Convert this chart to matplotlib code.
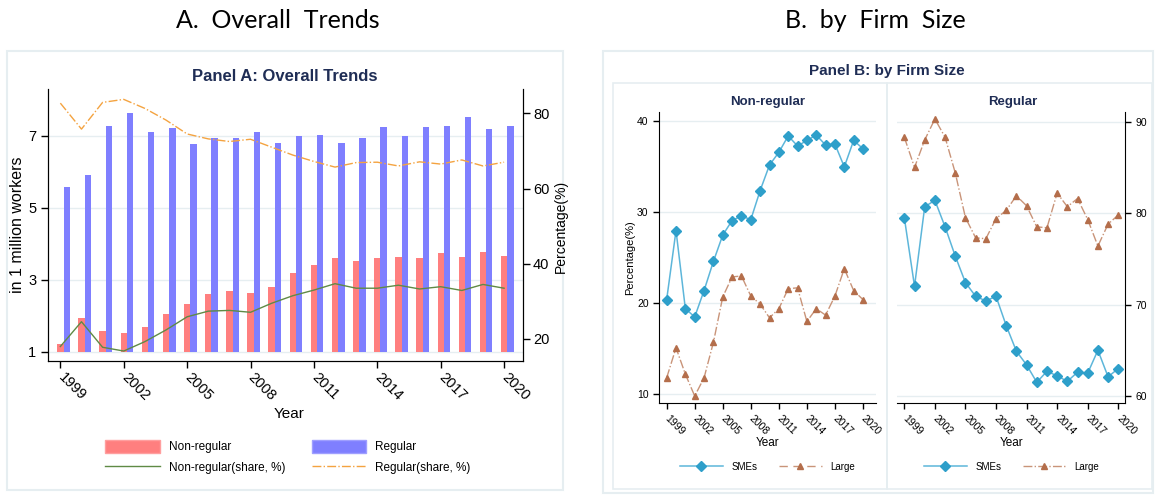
import numpy as np
import matplotlib
matplotlib.use("Agg")
import matplotlib.pyplot as plt
from matplotlib import font_manager
from matplotlib.patches import Rectangle, Patch
from matplotlib.lines import Line2D

names = {f.name for f in font_manager.fontManager.ttflist}
NARROW = "Liberation Sans Narrow" if "Liberation Sans Narrow" in names else "Liberation Sans"
plt.rcParams["font.family"] = [NARROW, "DejaVu Sans"]
HEAD = "Lato" if "Lato" in names else NARROW

# ---- data ----
years = list(range(1999, 2021))
xticks = list(range(1999, 2021, 3))

# Panel A: workers (million) and shares (%)
nonreg_mil = [1.22, 1.94, 1.57, 1.53, 1.69, 2.06, 2.32, 2.60, 2.68, 2.63, 2.80,
              3.19, 3.41, 3.59, 3.52, 3.61, 3.63, 3.61, 3.74, 3.64, 3.77, 3.66]
reg_mil = [5.57, 5.90, 7.27, 7.63, 7.09, 7.22, 6.77, 6.94, 6.94, 7.10, 6.80,
           6.99, 7.02, 6.79, 6.94, 7.24, 6.99, 7.24, 7.27, 7.53, 7.18, 7.27]
nonreg_share = [18.0, 24.6, 17.8, 16.8, 19.3, 22.4, 25.9, 27.4, 27.6, 27.1, 29.5,
                31.5, 33.0, 34.7, 33.5, 33.5, 34.3, 33.3, 33.9, 32.9, 34.5, 33.5]
reg_share = [82.7, 75.8, 82.9, 83.7, 81.3, 78.2, 74.5, 73.2, 72.5, 73.1, 71.0,
             68.9, 67.2, 65.7, 66.9, 67.0, 66.0, 67.1, 66.5, 67.6, 66.0, 67.0]

# Panel B: share by firm size (%)
nonreg_sme = [20.4, 28.0, 19.4, 18.5, 21.4, 24.6, 27.5, 29.1, 29.6, 29.2, 32.4,
              35.2, 36.6, 38.4, 37.3, 37.9, 38.5, 37.4, 37.5, 35.0, 37.9, 37.0]
nonreg_large = [11.8, 15.1, 12.2, 9.8, 11.8, 15.7, 20.7, 22.9, 23.0, 20.8, 19.9,
                18.4, 19.4, 21.6, 21.7, 18.0, 19.4, 18.7, 20.8, 23.8, 21.4, 20.4]
reg_sme = [79.5, 72.0, 80.7, 81.4, 78.5, 75.3, 72.4, 70.9, 70.4, 70.9, 67.7,
           64.9, 63.4, 61.5, 62.7, 62.2, 61.6, 62.6, 62.5, 65.0, 62.1, 63.0]
reg_large = [88.3, 85.0, 88.0, 90.3, 88.3, 84.4, 79.5, 77.3, 77.2, 79.4, 80.3,
             81.9, 80.8, 78.5, 78.4, 82.2, 80.7, 81.6, 79.3, 76.4, 78.8, 79.8]

W, H = 1156, 497
fig = plt.figure(figsize=(W / 100, H / 100), dpi=100)


def fx(px):
    return px / W


def fy(py):
    return 1 - py / H


def box(x0, y0, x1, y1, color="#e6eef1", lw=1.5):
    fig.patches.append(Rectangle((fx(x0), fy(y1)), fx(x1) - fx(x0), fy(y0) - fy(y1),
                                 transform=fig.transFigure, fill=False,
                                 edgecolor=color, linewidth=lw))


NAVY = "#1f2d55"
GRID = "#e6eef1"

# ---- headings ----
fig.text(fx(278), fy(21), "A.  Overall  Trends", ha="center", va="center", fontsize=18,
         family=[HEAD, "DejaVu Sans"], color="black")
fig.text(fx(875), fy(21), "B.  by  Firm  Size", ha="center", va="center", fontsize=18,
         family=[HEAD, "DejaVu Sans"], color="black")

box(6.7, 50.7, 563, 490)
box(603, 50.7, 1153, 493)
box(612.7, 83, 886.7, 489, lw=1.2)
box(886.7, 83, 1152, 489, lw=1.2)

# ---- Panel A ----
fig.text(fx(285), fy(76.5), "Panel A: Overall Trends", ha="center", va="center",
         fontsize=12, fontweight="bold", color=NAVY)

axA = fig.add_axes([fx(48.3), fy(361), (523.3 - 48.3) / W, (361 - 89.3) / H])
yrs = np.array(years)
axA.bar(yrs, np.array(nonreg_mil) - 1, bottom=1, width=0.3, color="#ff7f7f", align="center")
axA.bar(yrs + 0.3, np.array(reg_mil) - 1, bottom=1, width=0.3, color="#7f7fff", align="center")
axA.set_xlim(1998.43, 2020.91)
axA.set_ylim(0.742, 8.29)
axA.set_yticks([1, 3, 5, 7])
axA.yaxis.grid(True, color=GRID, linewidth=1)
axA.set_axisbelow(True)
axA.set_xticks(xticks)
axA.set_xticklabels([str(y) for y in xticks], rotation=-45, rotation_mode="anchor",
                    ha="left", va="center")
axA.tick_params(axis="both", labelsize=10.5, length=5, width=1, direction="out")
axA.tick_params(axis="x", pad=5)
axA.spines["top"].set_visible(False)

axA2 = axA.twinx()
axA2.plot(yrs, nonreg_share, color="#5f8a45", linewidth=1)
axA2.plot(yrs, reg_share, color="#f4a340", linewidth=1, linestyle="dashdot")
axA2.set_ylim(14.15, 86.38)
axA2.set_yticks([20, 40, 60, 80])
axA2.tick_params(axis="y", labelsize=10.5, length=5, width=1, pad=2)
axA2.spines["top"].set_visible(False)

fig.text(fx(17.3), fy(225), "in 1 million workers", rotation=90, ha="center", va="center", fontsize=11.5)
fig.text(fx(561), fy(226), "Percentage(%)", rotation=90, ha="center", va="center", fontsize=10)
fig.text(fx(289), fy(414), "Year", ha="center", va="center", fontsize=11)

handlesA = [Patch(facecolor="#ff7f7f", edgecolor="#ff9f9f"),
            Line2D([], [], color="#5f8a45", linewidth=1),
            Patch(facecolor="#7f7fff", edgecolor="#9f9fff"),
            Line2D([], [], color="#f4a340", linewidth=1, linestyle="dashdot")]
labelsA = ["Non-regular", "Non-regular(share, %)", "Regular", "Regular(share, %)"]
fig.legend(handlesA, labelsA, loc="center", bbox_to_anchor=(fx(288), fy(457)), ncol=2,
           frameon=False, fontsize=8.5, handlelength=4.6, handleheight=1.3,
           handletextpad=0.8, columnspacing=2.2, labelspacing=0.6, borderpad=0)

# ---- Panel B ----
fig.text(fx(887), fy(71), "Panel B: by Firm Size", ha="center", va="center",
         fontsize=11, fontweight="bold", color=NAVY)
fig.text(fx(768), fy(102), "Non-regular", ha="center", va="center", fontsize=9.5,
         fontweight="bold", color=NAVY)
fig.text(fx(1013), fy(102), "Regular", ha="center", va="center", fontsize=9.5,
         fontweight="bold", color=NAVY)

SME_C = "#2e9fca"
SME_L = "#5db6da"
LRG_C = "#b46e4b"
LRG_L = "#c99479"

axL = fig.add_axes([fx(659), fy(403.3), (875.7 - 659) / W, (403.3 - 112.3) / H])
axR = fig.add_axes([fx(897), fy(403.3), (1125 - 897) / W, (403.3 - 112.3) / H])

for ax, sme, lrg, xl, yl, ticks in [
        (axL, nonreg_sme, nonreg_large, (1998.18, 2021.36), (9.0, 41.0), [10, 20, 30, 40]),
        (axR, reg_sme, reg_large, (1998.28, 2020.66), (59.2, 91.03), [60, 70, 80, 90])]:
    ax.plot(years, sme, color=SME_L, linewidth=1.1, marker="D", markersize=5.5,
            markerfacecolor=SME_C, markeredgecolor=SME_C)
    ax.plot(years, lrg, color=LRG_L, linewidth=1, linestyle="dashdot", marker="^",
            markersize=5, markerfacecolor=LRG_C, markeredgecolor=LRG_C)
    ax.set_xlim(*xl)
    ax.set_ylim(*yl)
    ax.set_yticks(ticks)
    ax.yaxis.grid(True, color=GRID, linewidth=1)
    ax.set_axisbelow(True)
    ax.set_xticks(xticks)
    ax.set_xticklabels([str(y) for y in xticks], rotation=-45, rotation_mode="anchor",
                       ha="left", va="center")
    ax.tick_params(axis="both", labelsize=7.5, length=4, width=1)
    ax.tick_params(axis="x", pad=6)
    ax.spines["top"].set_visible(False)

axL.spines["right"].set_visible(False)
axR.spines["left"].set_visible(False)
axR.yaxis.tick_right()
axR.yaxis.set_label_position("right")

fig.text(fx(630), fy(258), "Percentage(%)", rotation=90, ha="center", va="center", fontsize=8)
fig.text(fx(768), fy(443), "Year", ha="center", va="center", fontsize=8.5)
fig.text(fx(1012), fy(443), "Year", ha="center", va="center", fontsize=8.5)

for cx, ls in [(767.5, (0, (6, 4))), (1011.5, "dashdot")]:
    hs = [Line2D([], [], color=SME_L, linewidth=1.1, marker="D", markersize=5.5,
                 markerfacecolor=SME_C, markeredgecolor=SME_C),
          Line2D([], [], color=LRG_L, linewidth=1, linestyle=ls, marker="^", markersize=5,
                 markerfacecolor=LRG_C, markeredgecolor=LRG_C)]
    fig.legend(hs, ["SMEs", "Large"], loc="center", bbox_to_anchor=(fx(cx), fy(466.7)),
               ncol=2, frameon=False, fontsize=7, handlelength=4.4, handletextpad=0.9,
               columnspacing=2.2, borderpad=0)

fig.savefig("out.png", dpi=100)
